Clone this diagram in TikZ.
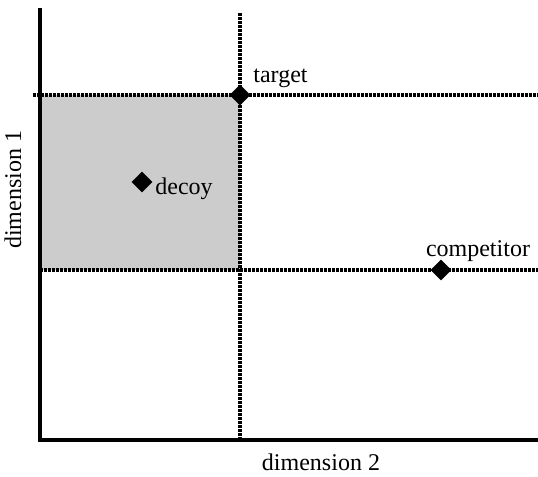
\documentclass[tikz,border=0pt]{standalone}
\usepackage{fontspec}
\setmainfont{Liberation Serif}
\usetikzlibrary{shapes.geometric}

\begin{document}
\begin{tikzpicture}[
    x=0.5pt, y=0.5pt,
    every node/.style={font=\fontsize{12}{14}\selectfont},
    axis/.style={line width=2pt, line join=miter},
    guide/.style={line width=2pt, dash pattern=on 1.5pt off 0.5pt},
    option/.style={diamond, fill=black, inner sep=0pt, minimum size=10.5pt},
    tag/.style={inner sep=0pt}
]
\useasboundingbox (0,0) rectangle (538,477);

% Region
\fill[black!20] (40,207) rectangle (240,382);

% Guides
\draw[guide] (240,464) -- (240,37);
\draw[guide] (33,382) -- (538,382);
\draw[guide] (40,207) -- (538,207);

% Axes
\draw[axis] (40,469) -- (40,37) -- (538,37);

% Nodes
\node[option] (target) at (240,382) {};
\node[option] (decoy) at (142,295) {};
\node[option] (competitor) at (441,207) {};
\node[tag, anchor=base west] (targetlabel) at (253,394) {target};
\node[tag, anchor=base west] (decoylabel) at (155,282) {decoy};
\node[tag, anchor=base] (competitorlabel) at (478,220) {competitor};
\node[tag, anchor=base] (xlabel) at (321,6) {dimension 2};
\node[tag, anchor=base, rotate=90] (ylabel) at (21,287) {dimension 1};

\end{tikzpicture}
\end{document}
